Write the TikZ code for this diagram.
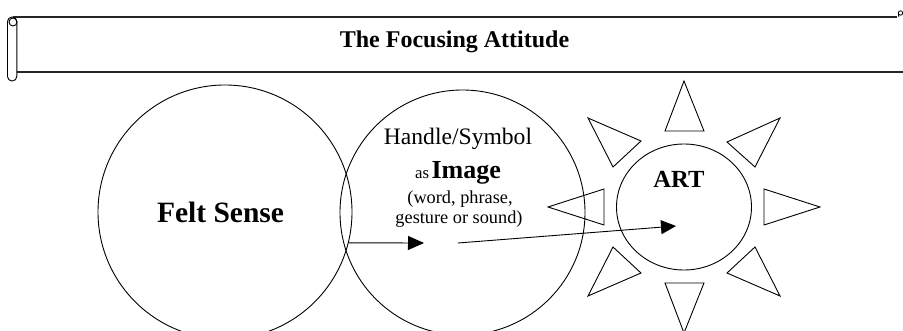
\documentclass[tikz,border=0pt]{standalone}
\usepackage{fontspec}
\setmainfont{Liberation Serif}
\usetikzlibrary{shapes.geometric,arrows.meta}
\tikzset{
  outline/.style={draw=black, line width=0.9pt},
  bigcirc/.style={outline, circle, inner sep=0pt},
  ray/.style={outline, line join=miter},
  banner/.style={draw=black!85, line width=1.2pt},
  flow/.style={draw=black, line width=0.9pt, -{Triangle[length=16pt,width=14pt]}},
  txt/.style={inner sep=0pt, anchor=base}
}
\newcommand{\fs}[1]{\fontsize{#1pt}{#1pt}\selectfont}
\begin{document}
\begin{tikzpicture}[x=1pt,y=-1pt]
\useasboundingbox (0,0) rectangle (903,331);
% banner (scroll)
\draw[banner] (13,17) -- (897,17);
\draw[banner] (16.5,72) -- (903,72);
\draw[outline, rounded corners=4.5pt] (7.5,17) rectangle (16.8,81);
\draw[outline] (13,22) circle (4);
\draw[outline, line width=0.8pt] (900.5,13) circle (2.2);
\draw[outline, line width=0.8pt] (898.3,13.5) -- (898.8,17);
\node[txt, font=\bfseries\fs{24}] (title) at (454.5,48) {The Focusing Attitude};
% circles
\node[bigcirc, minimum size=254pt] (felt) at (225,212) {};
\node[bigcirc, minimum size=245pt] (img) at (462.5,212.5) {};
\node[outline, ellipse, inner sep=0pt, minimum width=135pt, minimum height=126pt] (sun) at (684,207) {};
% texts
\node[txt, font=\bfseries\fs{29.5}] (feltlbl) at (220.5,223) {Felt Sense};
\node[txt, font=\fs{23.6}] (handle) at (458,145) {Handle/Symbol};
\node[txt] (image) at (458,179) {{\fs{16.8}as} {\bfseries\fs{26}Image}};
\node[txt, font=\fs{18.3}] (word) at (460,204) {(word, phrase,};
\node[txt, font=\fs{18.3}] (gest) at (459,224) {gesture or sound)};
\node[txt, font=\bfseries\fs{24.6}] (art) at (679,188) {ART};
% rays
\draw[ray] (684,81) -- (704,131) -- (665,131) -- cycle;
\draw[ray] (684,333) -- (704,283) -- (665,283) -- cycle;
\draw[ray] (820,207) -- (764,189) -- (764,225) -- cycle;
\draw[ray] (548,207) -- (604,189) -- (604,225) -- cycle;
\draw[ray] (588,118) -- (641,141) -- (613,167) -- cycle;
\draw[ray] (780,118) -- (727,142) -- (755,167) -- cycle;
\draw[ray] (588,296) -- (613,247) -- (641,273) -- cycle;
\draw[ray] (780,296) -- (755,247) -- (727,273) -- cycle;
% arrows
\coordinate (a1end) at (424,243);
\coordinate (a2start) at (458,243);
\coordinate (a2end) at (676,226);
\draw[flow] (felt.-14) -- (a1end);
\draw[flow, -{Triangle[length=15pt,width=14pt]}] (a2start) -- (a2end);
\end{tikzpicture}
\end{document}
